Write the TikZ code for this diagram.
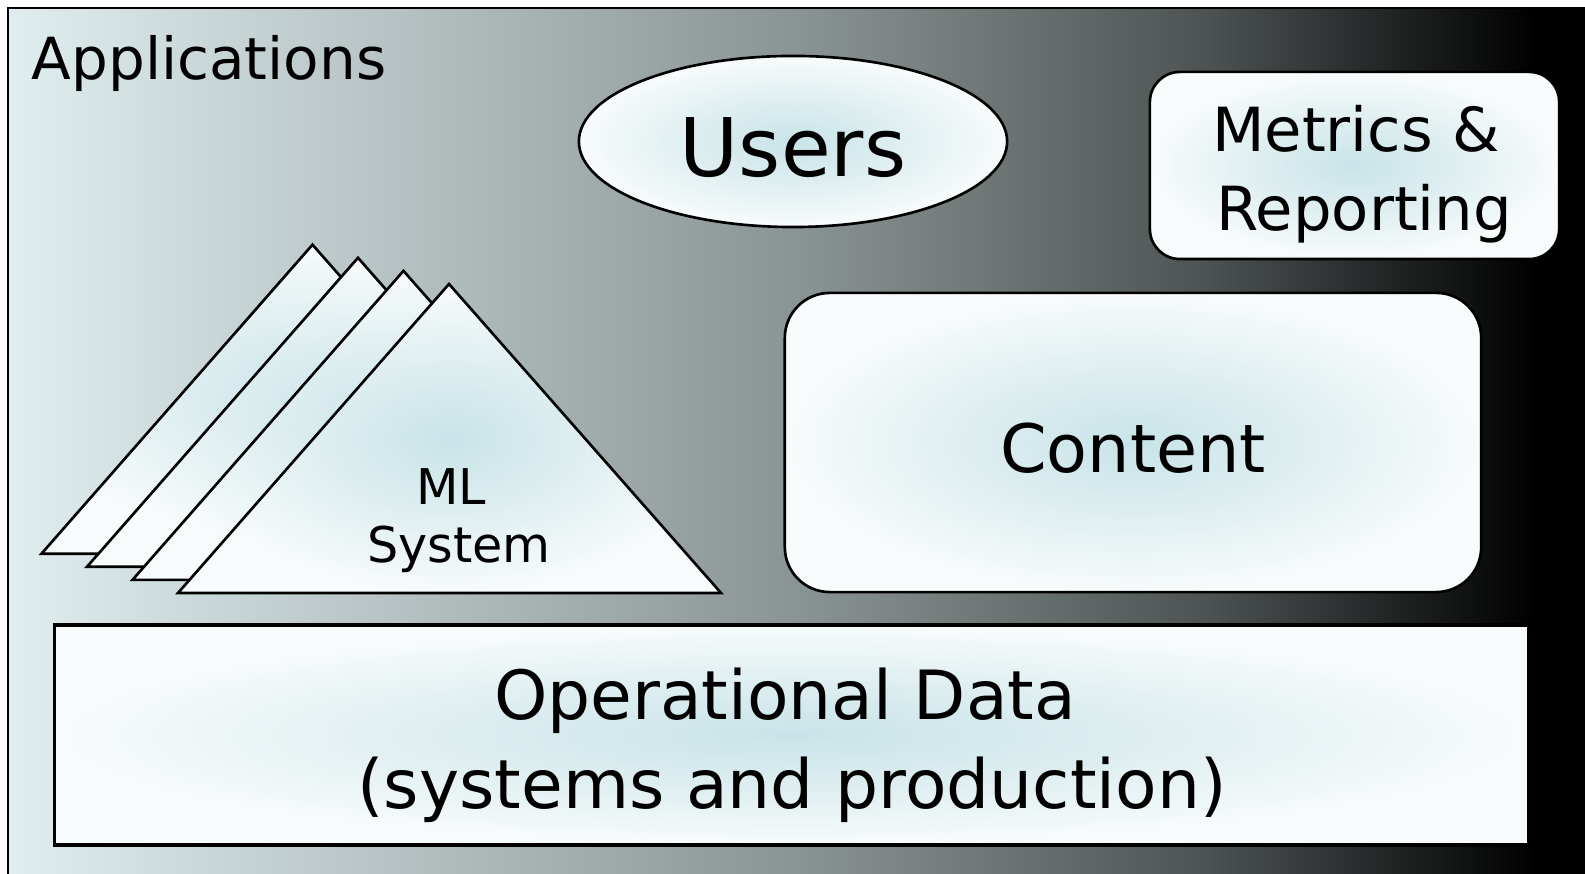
\documentclass[tikz,border=0pt]{standalone}
\usepackage{fontspec}
\setmainfont{DejaVu Sans}
\usetikzlibrary{shapes.geometric}

\definecolor{bgA}{HTML}{E0EEF0}
\definecolor{bgB}{HTML}{B4C0C1}
\definecolor{bgC}{HTML}{8A9393}
\definecolor{bgD}{HTML}{4E5454}
\definecolor{glowC}{HTML}{C8E4E8}
\definecolor{glowM}{HTML}{E0EFF1}
\definecolor{glowE}{HTML}{F8FBFC}

% fonas: sviesus kaireje, juodas desineje
\pgfdeclarehorizontalshading{appbg}{100bp}{color(0bp)=(bgA); color(25bp)=(bgA); color(37.5bp)=(bgB); color(50bp)=(bgC); color(62.5bp)=(bgD); color(73bp)=(black); color(100bp)=(black)}
\pgfdeclareradialshading{glow}{\pgfpoint{0bp}{0bp}}{color(0bp)=(glowC); color(13bp)=(glowM); color(25bp)=(glowE); color(50bp)=(glowE)}

\begin{document}
\begin{tikzpicture}[x=0.01cm, y=-0.01cm,
    box/.style={draw, line width=0.75pt, shading=glow, inner sep=0pt},
    lbl/.style={font=\fontsize{#1}{#1}\selectfont, align=center, inner sep=0pt}]
    \useasboundingbox (0,0) rectangle (1585,874);
    \clip (0,0) rectangle (1585,874);

    % Applications remas
    \path[draw, line width=0.6pt, shading=appbg] (8,8) rectangle (1600,890);
    \node[lbl=16.5, anchor=base west] (apps) at (31,80) {Applications};

    \node[box, ellipse, minimum width=4.28cm, minimum height=1.71cm] (users) at (793,141.5) {};
    \node[lbl=23] (userstxt) at (793,148) {Users};

    \node[box, rounded corners=0.3cm, minimum width=4.09cm, minimum height=1.87cm] (metrics) at (1354.5,165.5) {};
    \node[lbl=17.3, anchor=base] (metricstxt) at (1356,152) {Metrics \&};
    \node[lbl=17.3, anchor=base] (reptxt) at (1364,231) {Reporting};

    \node[box, rounded corners=0.45cm, minimum width=6.96cm, minimum height=2.99cm] (content) at (1133,442.5) {};
    \node[lbl=19] (contenttxt) at (1133,448) {Content};

    % ML sistemos trikampiai, nuo galinio iki priekinio
    \foreach \k in {3,2,1,0} {
        \draw[box] ({449-45.5*\k},{284-13.1*\k}) -- ++(-271,309) -- ++(543,0) -- cycle;
    }
    \node[lbl=14, anchor=base] (mltxt) at (451,505) {ML};
    \node[lbl=14, anchor=base] (systxt) at (459,563) {System};

    \node[box, line width=0.9pt, minimum width=14.73cm, minimum height=2.20cm] (opdata) at (791.5,735) {};
    \node[lbl=19.3, anchor=base] (optxt) at (785,720) {Operational Data};
    \node[lbl=19.3, anchor=base] (prodtxt) at (792,809) {(systems and production)};
\end{tikzpicture}
\end{document}
